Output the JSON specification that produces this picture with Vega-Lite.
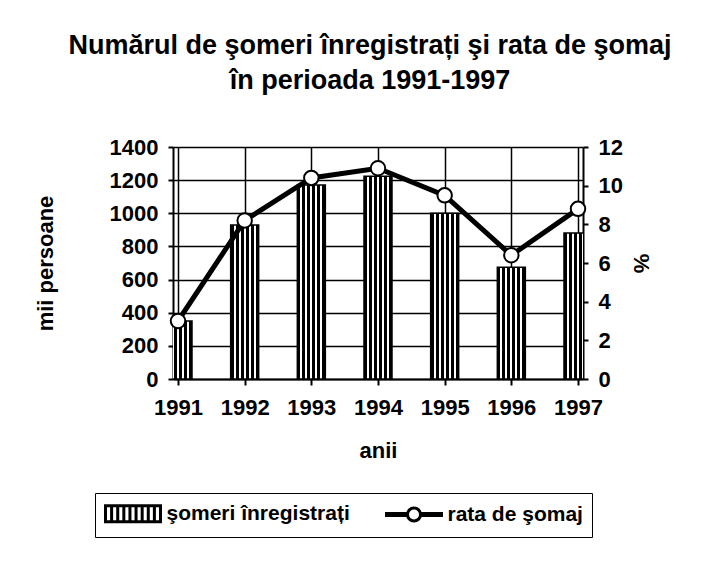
{
  "$schema": "https://vega.github.io/schema/vega-lite/v6.json",
  "width": 410,
  "height": 232,
  "autosize": {"type": "none"},
  "padding": {"left": 173, "top": 147, "right": 122, "bottom": 185},
  "background": "white",
  "title": {
    "text": ["Numărul de şomeri înregistrați şi rata de şomaj", "în perioada 1991-1997"],
    "font": "Liberation Sans",
    "fontSize": 27,
    "fontWeight": "bold",
    "color": "black",
    "lineHeight": 35,
    "offset": 41,
    "anchor": "middle",
    "dx": -8
  },
  "datasets": {
    "ani": [
      {"an": 1991, "someri": 350, "rata": 3.0},
      {"an": 1992, "someri": 929, "rata": 8.2},
      {"an": 1993, "someri": 1170, "rata": 10.4},
      {"an": 1994, "someri": 1224, "rata": 10.9},
      {"an": 1995, "someri": 1000, "rata": 9.5},
      {"an": 1996, "someri": 675, "rata": 6.4},
      {"an": 1997, "someri": 881, "rata": 8.8}
    ],
    "serii": [
      {"serie": "şomeri înregistrați"},
      {"serie": "rata de şomaj"}
    ]
  },
  "data": {"name": "ani"},
  "config": {
    "font": "Liberation Sans",
    "view": {"stroke": null},
    "axis": {
      "labelFont": "Liberation Sans",
      "labelFontSize": 22,
      "labelFontWeight": "bold",
      "labelColor": "black",
      "labelOverlap": false,
      "titleFont": "Liberation Sans",
      "titleFontSize": 22,
      "titleFontWeight": "bold",
      "titleColor": "black",
      "domainColor": "black",
      "domainWidth": 2,
      "tickColor": "black",
      "tickWidth": 2,
      "tickSize": 6,
      "gridColor": "black",
      "gridWidth": 1.5,
      "gridOpacity": 1
    },
    "legend": {
      "orient": "none",
      "legendX": -78,
      "legendY": 346,
      "direction": "horizontal",
      "strokeColor": "black",
      "padding": 9,
      "labelFont": "Liberation Sans",
      "labelFontSize": 21,
      "labelFontWeight": "bold",
      "labelColor": "black",
      "labelLimit": 400,
      "labelOffset": 22,
      "symbolOffset": 17.5,
      "symbolSize": 400,
      "symbolStrokeWidth": 3,
      "symbolStrokeColor": "black",
      "symbolOpacity": 1,
      "columnPadding": 30
    }
  },
  "layer": [
    {
      "mark": {
        "type": "bar",
        "size": 28,
        "clip": true,
        "stroke": "black",
        "strokeWidth": 1.5,
        "fill": {
          "gradient": "linear",
          "x1": 0, "y1": 0, "x2": 1, "y2": 0,
          "stops": [
            {"offset": 0, "color": "black"}, {"offset": 0.107, "color": "black"},
            {"offset": 0.107, "color": "white"}, {"offset": 0.179, "color": "white"},
            {"offset": 0.179, "color": "black"}, {"offset": 0.286, "color": "black"},
            {"offset": 0.286, "color": "white"}, {"offset": 0.357, "color": "white"},
            {"offset": 0.357, "color": "black"}, {"offset": 0.464, "color": "black"},
            {"offset": 0.464, "color": "white"}, {"offset": 0.536, "color": "white"},
            {"offset": 0.536, "color": "black"}, {"offset": 0.643, "color": "black"},
            {"offset": 0.643, "color": "white"}, {"offset": 0.714, "color": "white"},
            {"offset": 0.714, "color": "black"}, {"offset": 0.821, "color": "black"},
            {"offset": 0.821, "color": "white"}, {"offset": 0.893, "color": "white"},
            {"offset": 0.893, "color": "black"}, {"offset": 1, "color": "black"}
          ]
        }
      },
      "encoding": {
        "x": {
          "field": "an",
          "type": "quantitative",
          "scale": {"domain": [1991, 1997], "nice": false, "zero": false},
          "axis": {
            "values": [1991, 1992, 1993, 1994, 1995, 1996, 1997],
            "format": "d",
            "title": "anii",
            "labelPadding": 12,
            "titlePadding": 22,
            "grid": true,
            "labelFlush": false,
            "labelOverlap": false
          }
        },
        "y": {
          "field": "someri",
          "type": "quantitative",
          "scale": {"domain": [0, 1400], "nice": false},
          "axis": {
            "values": [0, 200, 400, 600, 800, 1000, 1200, 1400],
            "format": "d",
            "title": "mii persoane",
            "labelPadding": 10,
            "titlePadding": 52,
            "grid": true,
            "tickSize": 5,
            "labelOverlap": false
          }
        }
      }
    },
    {
      "encoding": {
        "x": {"field": "an", "type": "quantitative"},
        "y": {
          "field": "rata",
          "type": "quantitative",
          "scale": {"domain": [0, 12], "nice": false},
          "axis": {
            "orient": "right",
            "values": [0, 2, 4, 6, 8, 10, 12],
            "title": "%",
            "titleAngle": 90,
            "labelPadding": 10,
            "titlePadding": 6,
            "grid": false,
            "tickSize": 5,
            "labelOverlap": false
          }
        }
      },
      "layer": [
        {
          "mark": {"type": "line", "strokeWidth": 5, "color": "black"}
        },
        {
          "mark": {"type": "point", "filled": true, "fill": "white", "stroke": "black", "strokeWidth": 2, "size": 210, "opacity": 1}
        }
      ]
    },
    {
      "data": {"name": "serii"},
      "mark": {"type": "point", "opacity": 0, "color": "black"},
      "encoding": {
        "shape": {
          "field": "serie",
          "type": "nominal",
          "scale": {
            "domain": ["şomeri înregistrați", "rata de şomaj"],
            "range": [
              "M-2.75,-0.8H2.75V0.8H-2.75Z M-2.139,-0.8V0.8 M-1.528,-0.8V0.8 M-0.917,-0.8V0.8 M-0.306,-0.8V0.8 M0.306,-0.8V0.8 M0.917,-0.8V0.8 M1.528,-0.8V0.8 M2.139,-0.8V0.8",
              "M-2.75,-0.09H-0.65V0.09H-2.75Z M0.65,-0.09H2.75V0.09H0.65Z M0.65,0A0.65,0.65,0,1,1,-0.65,0A0.65,0.65,0,1,1,0.65,0"
            ]
          },
          "legend": {
            "title": null,
            "symbolOpacity": 1,
            "symbolStrokeColor": "black",
            "symbolStrokeWidth": 3
          }
        }
      }
    }
  ],
  "resolve": {"scale": {"y": "independent"}}
}
